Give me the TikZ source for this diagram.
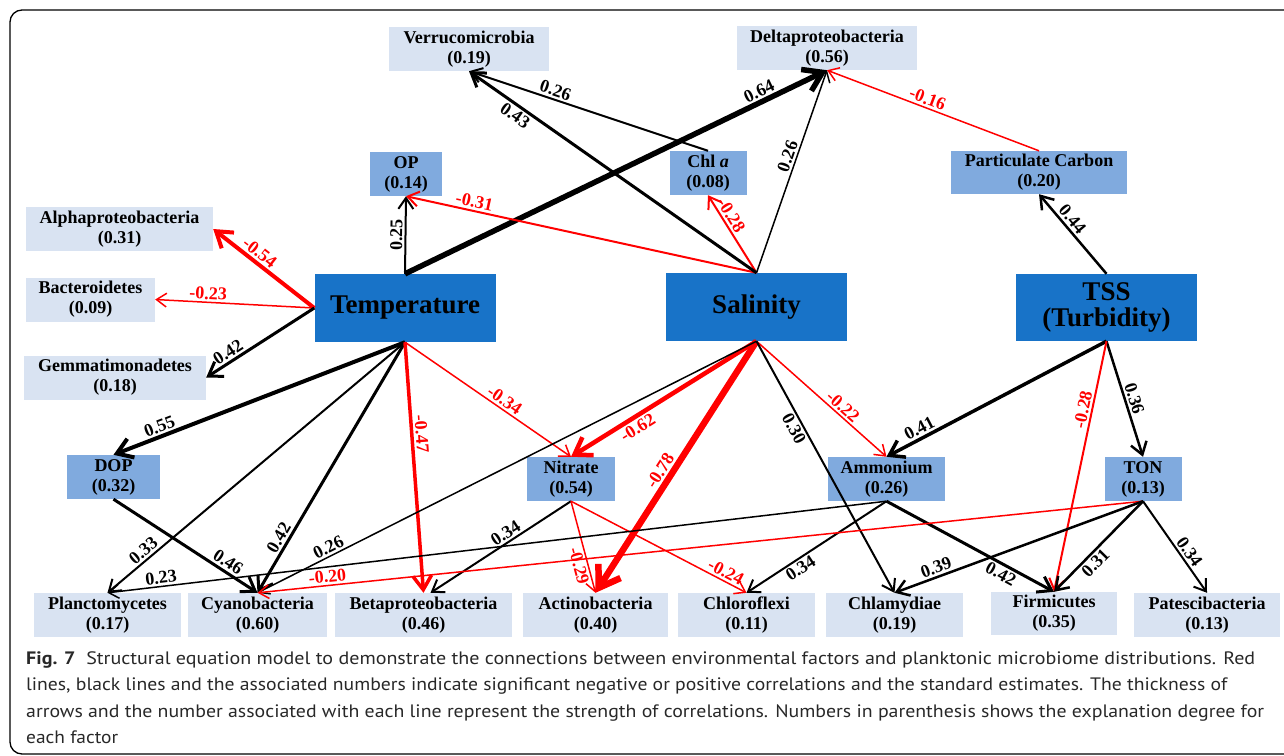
\documentclass[tikz,border=0pt]{standalone}
\usepackage{fontspec}
\usepackage{graphicx}
\setmainfont{Liberation Serif}
\newfontfamily\capfont{PT Sans}
\usetikzlibrary{arrows.meta}
\definecolor{driverblue}{RGB}{24,115,200}
\definecolor{factorblue}{RGB}{128,170,222}
\definecolor{taxonblue}{RGB}{217,227,242}
\definecolor{captext}{RGB}{40,40,40}
\begin{document}
\begin{tikzpicture}[
      x=1pt, y=-1pt,
      every node/.style = {align=center, inner sep=0pt},
      taxon/.style = {fill=taxonblue, minimum height=44pt, font=\bfseries\fontsize{18}{20}\selectfont},
      factor/.style = {fill=factorblue, minimum height=44pt, font=\bfseries\fontsize{18}{20}\selectfont},
      driver/.style = {fill=driverblue, minimum width=181pt, minimum height=68pt, font=\bfseries\fontsize{27}{27}\selectfont},
      poslink/.style = {black, -{Straight Barb[length=7pt 2, width=10pt 2.5]}},
      neglink/.style = {red, -{Straight Barb[length=7pt 2, width=10pt 2.5]}},
      coef/.style = {sloped, inner sep=2pt, font=\bfseries\fontsize{18}{18}\selectfont},
      capline/.style = {anchor=base west, text=captext, font=\capfont\fontsize{18}{26}\selectfont}
      ]
      \useasboundingbox (0,0) rectangle (1284,755);
      \draw[line width=1.3pt, rounded corners=12pt] (10,10) rectangle (1310,754);

      \node[taxon, minimum width=160pt] (verr) at (469,49) {Verrucomicrobia\\(0.19)};
      \node[taxon, minimum width=180pt] (delta) at (827,48) {Deltaproteobacteria\\(0.56)};
      \node[factor, minimum width=72pt] (op) at (406,174) {OP\\(0.14)};
      \node[factor, minimum width=77pt] (chla) at (708,173) {Chl \textit{a}\\(0.08)};
      \node[factor, minimum width=176pt, minimum height=43pt] (pc) at (1039,172.5) {Particulate Carbon\\(0.20)};
      \node[taxon, minimum width=187pt] (alpha) at (119.5,229) {Alphaproteobacteria\\(0.31)};
      \node[taxon, minimum width=129pt] (bact) at (90.5,299.5) {Bacteroidetes\\(0.09)};
      \node[taxon, minimum width=182pt] (gemm) at (115,377.5) {Gemmatimonadetes\\(0.18)};
      \node[driver] (temp) at (405,308) {Temperature};
      \node[driver] (sal) at (756.5,307) {Salinity};
      \node[driver, minimum height=67pt, font=\bfseries\fontsize{27}{26}\selectfont] (tss) at (1106.5,307.5) {TSS\\(Turbidity)};
      \node[factor, minimum width=93pt] (dop) at (113.5,477) {DOP\\(0.32)};
      \node[factor, minimum width=88pt] (nitr) at (571,479) {Nitrate\\(0.54)};
      \node[factor, minimum width=117pt] (amm) at (886.5,479) {Ammonium\\(0.26)};
      \node[factor, minimum width=77pt] (ton) at (1143,479) {TON\\(0.13)};
      \node[taxon, minimum width=147pt] (planc) at (107.5,615) {Planctomycetes\\(0.17)};
      \node[taxon, minimum width=139pt] (cyano) at (257.5,615) {Cyanobacteria\\(0.60)};
      \node[taxon, minimum width=177pt] (beta) at (423.5,615) {Betaproteobacteria\\(0.46)};
      \node[taxon, minimum width=145pt] (actino) at (595.5,615) {Actinobacteria\\(0.40)};
      \node[taxon, minimum width=137pt] (chlor) at (746.5,615) {Chloroflexi\\(0.11)};
      \node[taxon, minimum width=137pt] (chlam) at (894.5,615) {Chlamydiae\\(0.19)};
      \node[taxon, minimum width=126pt, minimum height=43pt] (firm) at (1054,613.5) {Firmicutes\\(0.35)};
      \node[taxon, minimum width=146pt] (pates) at (1207,615) {Patescibacteria\\(0.13)};

      \draw[poslink, line width=2pt] (temp.north) -- node[coef, pos=0.5, above] {0.25} (op.south);
      \draw[poslink, line width=5.5pt] (temp.north) -- node[coef, pos=0.85, above] {0.64} (delta.south);
      \draw[neglink, line width=4pt] (temp.west) -- node[coef, pos=0.6, above] {-0.54} (alpha.east);
      \draw[neglink, line width=1.5pt] (temp.west) -- node[coef, pos=0.67, above] {-0.23} (bact.east);
      \draw[poslink, line width=3pt] (temp.west) -- node[coef, pos=0.75, above] {0.42} (gemm.east);
      \draw[poslink, line width=4pt] (temp.south) -- node[coef, pos=0.83, above] {0.55} (dop.north);
      \draw[poslink, line width=2pt] (temp.south) -- node[coef, pos=0.86, above] {0.33} (planc.north);
      \draw[poslink, line width=3pt] (temp.south) -- node[coef, pos=0.8, above] {0.42} (cyano.north);
      \draw[neglink, line width=3.5pt] (temp.south) -- node[coef, pos=0.37, above] {-0.47} (beta.north);
      \draw[neglink, line width=1.5pt] (temp.south) -- node[coef, pos=0.57, above] {-0.34} (nitr.north);
      \draw[neglink, line width=2pt] (sal.north) -- node[coef, pos=0.81, above] {-0.31} (op.south);
      \draw[neglink, line width=2pt] (sal.north) -- node[coef, pos=0.68, above] {-0.28} (chla.south);
      \draw[poslink, line width=1.5pt] (sal.north) -- node[coef, pos=0.56, above] {0.26} (delta.south);
      \draw[poslink, line width=3pt] (sal.north) -- node[coef, pos=0.82, below] {0.43} (verr.south);
      \draw[poslink, line width=2pt] (chla.north) -- node[coef, pos=0.65, above] {0.26} (verr.south);
      \draw[neglink, line width=1.5pt] (pc.north) -- node[coef, pos=0.54, above] {-0.16} (delta.south);
      \draw[poslink, line width=2.5pt] (tss.north) -- node[coef, pos=0.61, above] {0.44} (pc.south);
      \draw[neglink, line width=4.5pt] (sal.south) -- node[coef, pos=0.67, below] {-0.62} (nitr.north);
      \draw[neglink, line width=6.5pt] (sal.south) -- node[coef, pos=0.54, above] {-0.78} (actino.north);
      \draw[neglink, line width=1.5pt] (sal.south) -- node[coef, pos=0.62, above] {-0.22} (amm.north);
      \draw[poslink, line width=2pt] (sal.south) -- node[coef, pos=0.33, below] {0.30} (chlam.north);
      \draw[poslink, line width=1.5pt] (sal.south) -- node[coef, pos=0.85, above] {0.26} (cyano.north);
      \draw[poslink, line width=3.5pt] (tss.south) -- node[coef, pos=0.83, above] {0.41} (amm.north);
      \draw[poslink, line width=2.5pt] (tss.south) -- node[coef, pos=0.52, above] {0.36} (ton.north);
      \draw[neglink, line width=2pt] (tss.south) -- node[coef, pos=0.28, above] {-0.28} (firm.north);
      \draw[poslink, line width=3pt] (dop.south) -- node[coef, pos=0.76, above] {0.46} (cyano.north);
      \draw[poslink, line width=2pt] (nitr.south) -- node[coef, pos=0.43, above] {0.34} ([xshift=7pt]beta.north);
      \draw[neglink, line width=1.5pt] (nitr.south) -- node[coef, pos=0.68, below] {-0.29} (actino.north);
      \draw[neglink, line width=1.5pt] (nitr.south) -- node[coef, pos=0.86, above] {-0.24} (chlor.north);
      \draw[poslink, line width=1.5pt] (amm.south) -- node[coef, pos=0.93, above] {0.23} (planc.north);
      \draw[poslink, line width=2pt] (amm.south) -- node[coef, pos=0.65, below] {0.34} (chlor.north);
      \draw[poslink, line width=3pt] (amm.south) -- node[coef, pos=0.71, below] {0.42} (firm.north);
      \draw[neglink, line width=1.5pt] (ton.south) -- node[coef, pos=0.92, above] {-0.20} (cyano.north);
      \draw[poslink, line width=2.5pt] (ton.south) -- node[coef, pos=0.82, above] {0.39} (chlam.north);
      \draw[poslink, line width=2.5pt] (ton.south) -- node[coef, pos=0.61, below] {0.31} (firm.north);
      \draw[poslink, line width=2pt] (ton.south) -- node[coef, pos=0.61, above] {0.34} (pates.north);

      \node[capline] (cap1) at (26,664) {\resizebox{1229pt}{\height}{\textbf{Fig. 7}\ \ Structural equation model to demonstrate the connections between environmental factors and planktonic microbiome distributions. Red}};
      \node[capline] (cap2) at (26,690) {\resizebox{1201pt}{\height}{lines, black lines and the associated numbers indicate significant negative or positive correlations and the standard estimates. The thickness of}};
      \node[capline] (cap3) at (26,717) {\resizebox{1238pt}{\height}{arrows and the number associated with each line represent the strength of correlations. Numbers in parenthesis shows the explanation degree for}};
      \node[capline] (cap4) at (26,743) {\resizebox{92pt}{\height}{each factor}};
    \end{tikzpicture}
\end{document}
